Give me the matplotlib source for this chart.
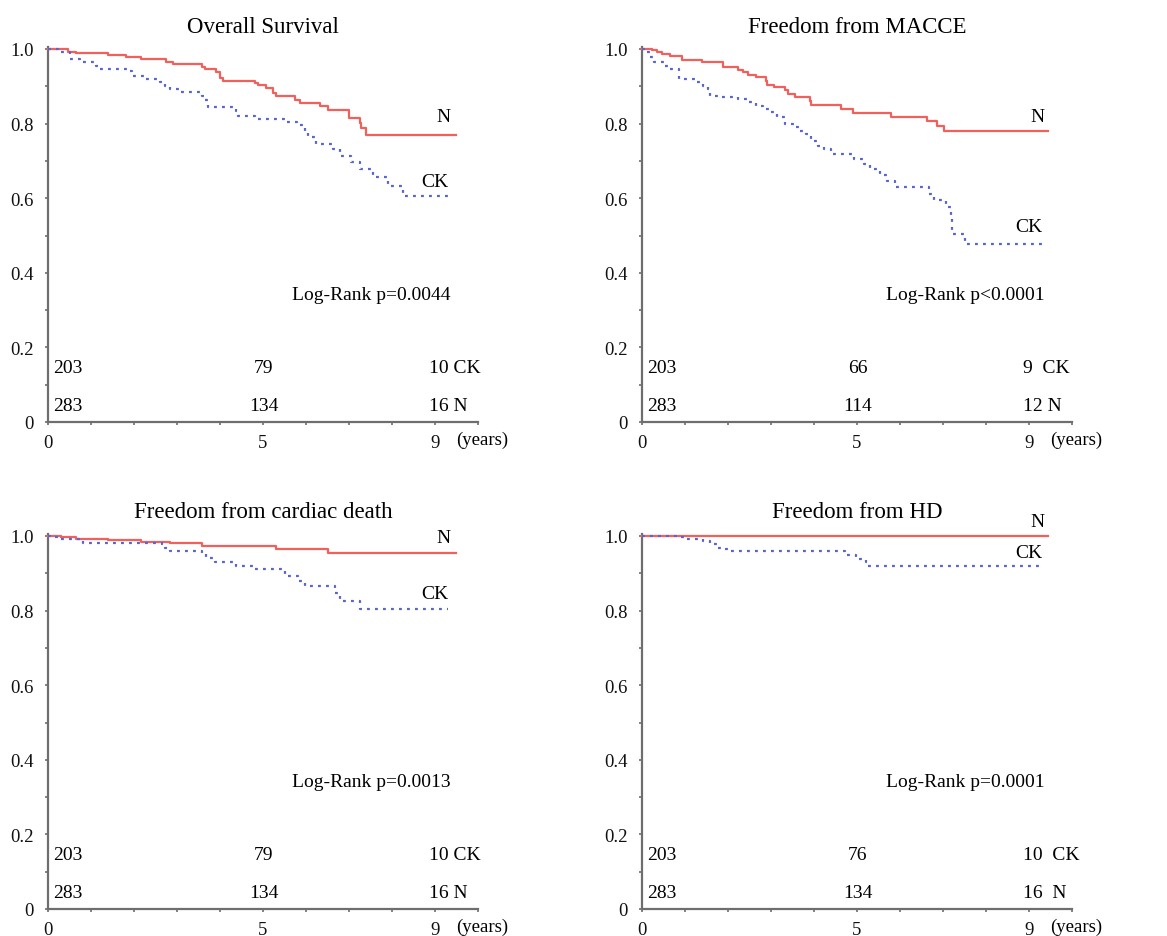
import matplotlib
matplotlib.use("Agg")
import matplotlib.pyplot as plt

plt.rcParams['font.family'] = ['Liberation Serif', 'DejaVu Serif']

titles = ["Overall Survival", "Freedom from MACCE",
          "Freedom from cardiac death", "Freedom from HD"]
pvalues = ["Log-Rank p=0.0044", "Log-Rank p<0.0001",
           "Log-Rank p=0.0013", "Log-Rank p=0.0001"]

# Numbers at risk (years 0, 5, 9)
risk_ck = [["203", "79", "10 CK"], ["203", "66", "9  CK"],
           ["203", "79", "10 CK"], ["203", "76", "10  CK"]]
risk_n = [["283", "134", "16 N"], ["283", "114", "12 N"],
          ["283", "134", "16 N"], ["283", "134", "16  N"]]

# Panel 1: Overall survival
os_n_t = [0, 0.47, 0.66, 1.40, 1.82, 2.17, 2.75, 2.91, 3.57, 3.64, 3.91, 3.99, 4.07,
          4.81, 4.88, 5.08, 5.23, 5.31, 5.74, 5.85, 6.32, 6.51, 7.00, 7.25, 7.29, 7.40, 9.48]
os_n_s = [1.0, 0.993, 0.988, 0.984, 0.979, 0.973, 0.966, 0.959, 0.953, 0.946, 0.939, 0.921, 0.915,
          0.910, 0.904, 0.895, 0.881, 0.875, 0.864, 0.856, 0.846, 0.837, 0.814, 0.802, 0.788, 0.770, 0.770]
os_ck_t = [0, 0.23, 0.50, 0.74, 1.12, 1.20, 1.90, 1.95, 2.29, 2.60, 2.71, 2.83, 3.10, 3.57, 3.64,
           3.72, 4.38, 4.42, 4.81, 5.50, 5.78, 5.97, 6.05, 6.24, 6.63, 6.78, 7.05, 7.25, 7.56,
           7.91, 8.26, 9.42]
os_ck_s = [1.0, 0.991, 0.973, 0.964, 0.955, 0.946, 0.942, 0.928, 0.920, 0.911, 0.902, 0.893, 0.884,
           0.875, 0.862, 0.844, 0.835, 0.821, 0.812, 0.804, 0.795, 0.781, 0.763, 0.746, 0.732,
           0.714, 0.696, 0.679, 0.656, 0.634, 0.607, 0.607]

# Panel 2: MACCE
mc_n_t = [0, 0.23, 0.35, 0.46, 0.66, 0.93, 1.39, 1.89, 2.24, 2.35, 2.47, 2.66, 2.89, 2.91,
          3.08, 3.32, 3.40, 3.55, 3.90, 3.94, 4.63, 4.90, 5.79, 6.63, 6.86, 7.02, 9.45]
mc_n_s = [1.0, 0.996, 0.991, 0.987, 0.980, 0.971, 0.964, 0.951, 0.945, 0.938, 0.930, 0.924, 0.915,
          0.904, 0.897, 0.891, 0.879, 0.872, 0.861, 0.850, 0.838, 0.829, 0.819, 0.808, 0.793,
          0.779, 0.779]
mc_ck_t = [0, 0.12, 0.19, 0.27, 0.50, 0.66, 0.85, 1.23, 1.43, 1.54, 1.58, 1.85, 2.24, 2.47,
           2.66, 2.82, 2.97, 3.13, 3.32, 3.55, 3.66, 3.82, 3.94, 4.09, 4.24, 4.40, 4.93, 5.16,
           5.31, 5.54, 5.69, 5.88, 6.67, 6.79, 7.06, 7.18, 7.21, 7.52, 9.41]
mc_ck_s = [1.0, 0.991, 0.978, 0.964, 0.955, 0.946, 0.920, 0.911, 0.902, 0.893, 0.875, 0.871,
           0.866, 0.857, 0.848, 0.839, 0.830, 0.817, 0.799, 0.790, 0.781, 0.772, 0.754, 0.741,
           0.732, 0.719, 0.705, 0.692, 0.679, 0.661, 0.647, 0.629, 0.612, 0.594, 0.576, 0.549,
           0.504, 0.478, 0.478]

# Panel 3: cardiac death
cd_n_t = [0, 0.31, 0.66, 1.40, 2.17, 2.83, 3.57, 5.31, 6.51, 9.48]
cd_n_s = [1.0, 0.996, 0.991, 0.988, 0.985, 0.980, 0.973, 0.964, 0.954, 0.954]
cd_ck_t = [0, 0.12, 0.31, 0.81, 2.64, 2.71, 2.83, 3.57, 3.68, 3.88, 4.38, 4.81, 5.50, 5.81,
           5.97, 6.67, 6.78, 7.25, 9.30]
cd_ck_s = [1.0, 0.996, 0.991, 0.982, 0.978, 0.969, 0.960, 0.955, 0.942, 0.929, 0.920, 0.911,
           0.893, 0.879, 0.866, 0.848, 0.826, 0.804, 0.804]

# Panel 4: HD
hd_n_t = [0, 9.45]
hd_n_s = [1.0, 1.0]
hd_ck_t = [0, 0.89, 1.01, 1.43, 1.58, 1.74, 1.89, 2.08, 4.71, 4.98, 5.21, 5.25, 9.30]
hd_ck_s = [1.0, 0.996, 0.991, 0.987, 0.978, 0.969, 0.964, 0.960, 0.948, 0.939, 0.929, 0.920, 0.920]

curves_n = [(os_n_t, os_n_s), (mc_n_t, mc_n_s), (cd_n_t, cd_n_s), (hd_n_t, hd_n_s)]
curves_ck = [(os_ck_t, os_ck_s), (mc_ck_t, mc_ck_s), (cd_ck_t, cd_ck_s), (hd_ck_t, hd_ck_s)]

# label positions for N / CK (data coords)
lab_n_y = [0.818, 0.82, 0.997, 1.04]
lab_ck_y = [0.646, 0.523, 0.845, 0.957]

RED = "#f2605c"
BLUE = "#5a66cc"
AX = "#6e6e6e"

fig = plt.figure(figsize=(11.67, 9.37), dpi=100)
W, H = 1167, 937
positions = [(48, 423), (642, 423), (48, 910), (642, 910)]
for i in range(4):
    x0, y0 = positions[i]
    ax = fig.add_axes([x0 / W, 1 - y0 / H, 430 / W, 373 / H])
    ax.set_xlim(0, 10)
    ax.set_ylim(0, 1.0)
    for s in ['top', 'right']:
        ax.spines[s].set_visible(False)
    for s in ['left', 'bottom']:
        ax.spines[s].set_color(AX)
        ax.spines[s].set_linewidth(1.6)
    ax.spines['left'].set_bounds(0, 1.005)
    ax.set_xticks(range(0, 11))
    ax.set_xticklabels(['0', '', '', '', '', '5', '', '', '', '9', ''])
    ax.set_yticks([0, 0.2, 0.4, 0.6, 0.8, 1.0])
    ax.set_yticklabels(['0', '0.2', '0.4', '0.6', '0.8', '1.0'])
    ax.set_yticks([0.1, 0.3, 0.5, 0.7, 0.9], minor=True)
    ax.tick_params(axis='both', which='both', direction='out', length=2.5,
                   width=1.2, color=AX, labelsize=13.5, labelcolor='#111111')
    ax.tick_params(axis='y', pad=8)
    ax.tick_params(axis='x', pad=6)

    tn, sn = curves_n[i]
    tc, sc = curves_ck[i]
    ax.step(tn, sn, where='post', color=RED, lw=1.6, clip_on=False, zorder=3)
    ax.step(tc, sc, where='post', color=BLUE, lw=1.6, linestyle=(0, (1.3, 2.3)),
            clip_on=False, zorder=3)

    ax.set_title(titles[i], fontsize=16.5, pad=12 if i < 2 else 14)
    ax.text(9.37, 0.343, pvalues[i], ha='right', va='center', fontsize=14)
    ax.text(9.19, lab_n_y[i], "N", ha='center', va='center', fontsize=14)
    ax.text(8.99, lab_ck_y[i], "CK", ha='center', va='center', fontsize=14)

    ax.text(0.12, 0.147, risk_ck[i][0], ha='left', va='center', fontsize=14)
    ax.text(5.02, 0.147, risk_ck[i][1], ha='center', va='center', fontsize=14)
    ax.text(8.85, 0.147, risk_ck[i][2], ha='left', va='center', fontsize=14)
    ax.text(0.12, 0.043, risk_n[i][0], ha='left', va='center', fontsize=14)
    ax.text(5.02, 0.043, risk_n[i][1], ha='center', va='center', fontsize=14)
    ax.text(8.85, 0.043, risk_n[i][2], ha='left', va='center', fontsize=14)
    ax.text(9.5, -0.047, "(years)", ha='left', va='center', fontsize=13.5,
            clip_on=False)

fig.savefig("out.png", dpi=100, facecolor='white')
